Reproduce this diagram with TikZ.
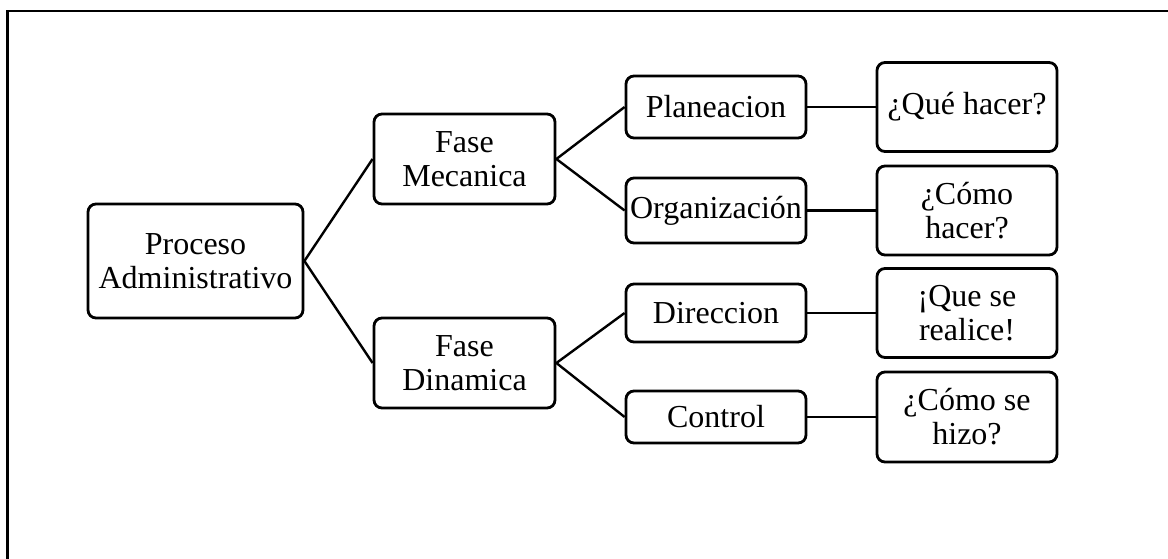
\documentclass[tikz,border=0pt]{standalone}
\usepackage{fontspec}
\setmainfont{Liberation Serif}
\begin{document}
\begin{tikzpicture}[x=0.5pt,y=-0.5pt,
  box/.style={draw,line width=1.4pt,rounded corners=4pt,align=center,
    inner sep=0pt,font=\fontsize{16}{17}\selectfont},
  link/.style={line width=1.2pt}]
\useasboundingbox (0,0) rectangle (1168,558);
\clip (0,0) rectangle (1168,558);
% frame
\draw[line width=1.1pt] (7.5,570) -- (7.5,11) -- (1180,11);

% root
\node[box,minimum width=107.5pt,minimum height=57pt] (proc) at (195.5,261) {Proceso\\Administrativo};
% phases
\node[box,minimum width=90.5pt,minimum height=45pt] (fm) at (464.5,159) {Fase\\Mecanica};
\node[box,minimum width=90.5pt,minimum height=45pt] (fd) at (464.5,363) {Fase\\Dinamica};
% stages
\node[box,minimum width=90pt,minimum height=31pt] (plan) at (716,107) {Planeacion};
\node[box,minimum width=90pt,minimum height=32.5pt] (org) at (716,210.5) {Organización};
\node[box,minimum width=90pt,minimum height=29pt] (dir) at (716,313) {Direccion};
\node[box,minimum width=90pt,minimum height=26pt] (ctrl) at (716,417) {Control};
% questions
\node[box,minimum width=90pt,minimum height=44.5pt] (q1) at (967,107) {¿Qué hacer?};
\node[box,minimum width=90pt,minimum height=44.5pt] (q2) at (967,210.5) {¿Cómo\\hacer?};
\node[box,minimum width=90pt,minimum height=44.5pt] (q3) at (967,313) {¡Que se\\realice!};
\node[box,minimum width=90pt,minimum height=45pt] (q4) at (967,417) {¿Cómo se\\hizo?};

% connectors
\draw[link] (proc.east) -- (fm.west);
\draw[link] (proc.east) -- (fd.west);
\draw[link] (fm.east) -- (plan.west);
\draw[link] (fm.east) -- (org.west);
\draw[link] (fd.east) -- (dir.west);
\draw[link] (fd.east) -- (ctrl.west);
\draw[link] (plan.east) -- (q1.west);
\draw[link] (org.east) -- (q2.west);
\draw[link] (dir.east) -- (q3.west);
\draw[link] (ctrl.east) -- (q4.west);
\end{tikzpicture}
\end{document}
